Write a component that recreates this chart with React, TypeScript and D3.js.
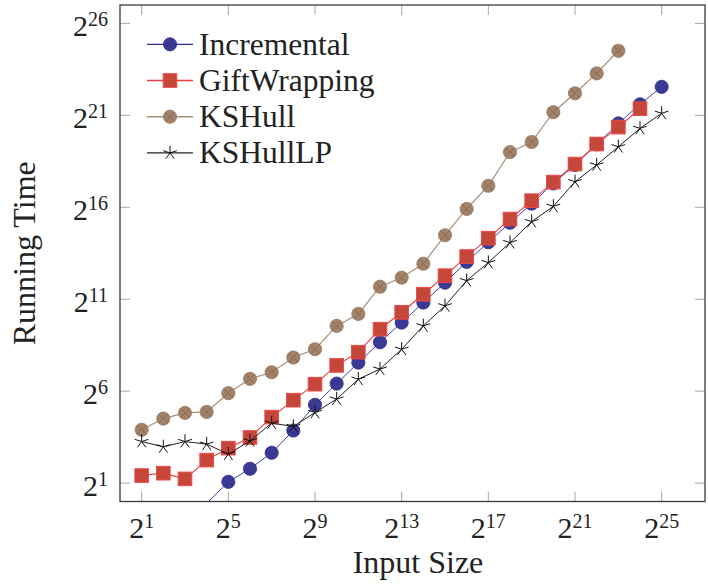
import React from 'react'
import { scaleLog, line } from 'd3'

// input sizes as powers of two (2^1 .. 2^25)
const sizeExp = [1, 2, 3, 4, 5, 6, 7, 8, 9, 10, 11, 12, 13, 14, 15, 16, 17, 18, 19, 20, 21, 22, 23, 24, 25]

// running times, log2 of the value
const incrementalLog = [null, null, null, -0.1, 1.07, 1.78, 2.65, 3.86, 5.26, 6.41, 7.55, 8.66, 9.73, 10.82, 11.9, 13.03, 14.1, 15.16, 16.2, 17.3, 18.3, 19.42, 20.56, 21.6, 22.55]
const giftWrappingLog = [1.41, 1.54, 1.23, 2.25, 2.9, 3.48, 4.59, 5.51, 6.38, 7.4, 8.12, 9.37, 10.29, 11.27, 12.28, 13.32, 14.32, 15.36, 16.36, 17.37, 18.35, 19.44, 20.36, 21.36, null]
const ksHullLog = [3.9, 4.51, 4.82, 4.87, 5.89, 6.67, 7.03, 7.83, 8.28, 9.55, 10.2, 11.68, 12.17, 12.93, 14.48, 15.91, 17.17, 19.0, 19.55, 21.17, 22.2, 23.28, 24.51, null, null]
const ksHullLPLog = [3.26, 2.97, 3.26, 3.12, 2.58, 3.3, 4.26, 4.08, 4.84, 5.57, 6.65, 7.2, 8.28, 9.55, 10.64, 12.01, 12.99, 14.08, 15.22, 16.05, 17.39, 18.3, 19.29, 20.29, 21.11]

const xTickExp = [1, 5, 9, 13, 17, 21, 25]
const yTickExp = [1, 6, 11, 16, 21, 26]

const width = 708
const height = 585
const plot = { left: 120, right: 705, top: 5, bottom: 501.5 }
const font = '"Liberation Serif", "Times New Roman", serif'

const xScale = scaleLog().base(2).domain([1, 2 ** 27]).range([plot.left, plot.right])
const yScale = scaleLog().base(2).domain([1, 2 ** 27]).range([plot.bottom, plot.top])

type Pt = { x: number; y: number }
const toPoints = (vals: (number | null)[]): Pt[] =>
  vals
    .map((v, i) => (v === null ? null : { x: 2 ** sizeExp[i], y: 2 ** v }))
    .filter((d): d is Pt => d !== null)

const path = line<Pt>().x(d => xScale(d.x)).y(d => yScale(d.y))

const starPath = (r: number) => {
  let s = ''
  for (let k = 0; k < 5; k++) {
    const a = (-90 + k * 72) * Math.PI / 180
    s += `M0,0L${(r * Math.cos(a)).toFixed(2)},${(r * Math.sin(a)).toFixed(2)}`
  }
  return s
}

const Marker = ({ kind, cx, cy }: { kind: string; cx: number; cy: number }) => {
  if (kind === 'circle') {
    return <circle cx={cx} cy={cy} r={6.6} fill="#3a3a94" stroke="#2c2c86" strokeWidth={0.8} />
  }
  if (kind === 'square') {
    return <rect x={cx - 6.8} y={cy - 6.8} width={13.6} height={13.6} fill="#c4473a" stroke="#f04848" strokeWidth={1} />
  }
  if (kind === 'otimes') {
    const d = 4.6
    return (
      <g>
        <circle cx={cx} cy={cy} r={6.6} fill="#a2836a" stroke="#93765e" strokeWidth={0.8} />
        <path d={`M${cx - d},${cy - d}L${cx + d},${cy + d}M${cx - d},${cy + d}L${cx + d},${cy - d}`} stroke="#86684f" strokeWidth={0.9} />
      </g>
    )
  }
  return <path transform={`translate(${cx},${cy})`} d={starPath(7.2)} stroke="#111" strokeWidth={1} fill="none" />
}

const series = [
  { name: 'Incremental', vals: incrementalLog, color: '#2e2e98', width: 0.9, mark: 'circle' },
  { name: 'GiftWrapping', vals: giftWrappingLog, color: '#ee3a3a', width: 1.1, mark: 'square' },
  { name: 'KSHull', vals: ksHullLog, color: '#a89078', width: 1.2, mark: 'otimes' },
  { name: 'KSHullLP', vals: ksHullLPLog, color: '#222', width: 1.0, mark: 'star' },
]

export default function App() {
  return (
    <svg width={width} height={height} style={{ position: 'absolute', left: 0, top: 0, background: '#fff' }} fontFamily={font}>
      <defs>
        <clipPath id="plotClip">
          <rect x={plot.left} y={plot.top} width={plot.right - plot.left} height={plot.bottom - plot.top} />
        </clipPath>
      </defs>

      {/* tick marks, inward on all four sides */}
      {xTickExp.map(e => (
        <g key={'xt' + e} stroke="#a8a8a8" strokeWidth={1}>
          <line x1={xScale(2 ** e)} x2={xScale(2 ** e)} y1={plot.bottom} y2={plot.bottom - 10} />
          <line x1={xScale(2 ** e)} x2={xScale(2 ** e)} y1={plot.top} y2={plot.top + 10} />
        </g>
      ))}
      {yTickExp.map(e => (
        <g key={'yt' + e} stroke="#a8a8a8" strokeWidth={1}>
          <line x1={plot.left} x2={plot.left + 10} y1={yScale(2 ** e)} y2={yScale(2 ** e)} />
          <line x1={plot.right} x2={plot.right - 10} y1={yScale(2 ** e)} y2={yScale(2 ** e)} />
        </g>
      ))}

      <g clipPath="url(#plotClip)">
        {series.map(s => {
          const pts = toPoints(s.vals)
          return (
            <g key={s.name}>
              <path d={path(pts) || ''} fill="none" stroke={s.color} strokeWidth={s.width} />
              {/* points below the axis minimum get no marker */}
              {pts.filter(p => p.y >= 1).map((p, i) => (
                <Marker key={i} kind={s.mark} cx={xScale(p.x)} cy={yScale(p.y)} />
              ))}
            </g>
          )
        })}
      </g>

      <rect x={plot.left} y={plot.top} width={plot.right - plot.left} height={plot.bottom - plot.top} fill="none" stroke="#3a3a3a" strokeWidth={1.3} />

      {/* tick labels */}
      {xTickExp.map(e => (
        <text key={'xl' + e} x={xScale(2 ** e)} y={538} textAnchor="middle" fontSize={30} fill="#222">
          2<tspan dy={-10} fontSize={20}>{e}</tspan>
        </text>
      ))}
      {yTickExp.map(e => (
        <text key={'yl' + e} x={108} y={yScale(2 ** e) + 12.5} textAnchor="end" fontSize={30} fill="#222">
          2<tspan dy={-10} fontSize={20}>{e}</tspan>
        </text>
      ))}

      {/* axis titles */}
      <text x={418} y={573} textAnchor="middle" fontSize={32} fill="#222">Input Size</text>
      <text transform={`translate(35,${(plot.top + plot.bottom) / 2}) rotate(-90)`} textAnchor="middle" fontSize={32} fill="#222">Running Time</text>

      {/* legend */}
      {series.map((s, i) => {
        const y = 44.3 + i * 36.2
        return (
          <g key={'lg' + s.name}>
            <line x1={147} x2={193} y1={y} y2={y} stroke={s.color} strokeWidth={s.width + 0.3} />
            <Marker kind={s.mark} cx={170} cy={y} />
            <text x={199} y={y + 10.5} fontSize={31.5} fill="#222">{s.name}</text>
          </g>
        )
      })}
    </svg>
  )
}
